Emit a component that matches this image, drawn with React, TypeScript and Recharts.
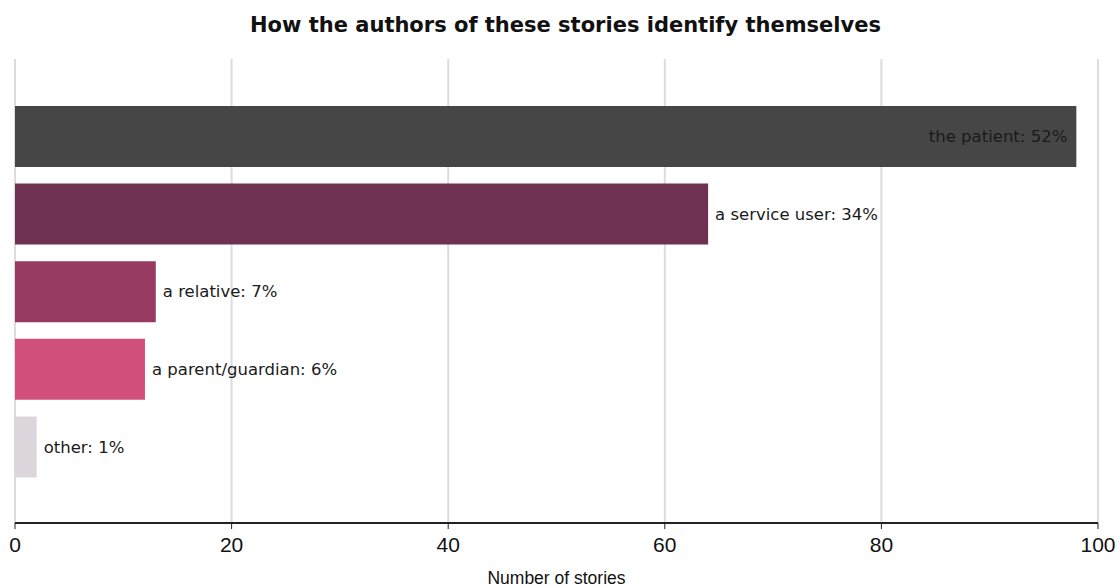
import React from "react";
import { BarChart, Bar, XAxis, YAxis, CartesianGrid, LabelList, Cell } from "recharts";

const categories = ["the patient", "a service user", "a relative", "a parent/guardian", "other"];
const counts = [98, 64, 13, 12, 2];
const percents = [52, 34, 7, 6, 1];
const colors = ["#464646", "#6f3151", "#983b62", "#d0507b", "#ddd5dc"];
const xTicks = [0, 20, 40, 60, 80, 100];

const chartData = categories.map((name, i) => ({
  name,
  count: counts[i],
  label: `${name}: ${percents[i]}%`,
}));

const BarLabel = (props: any) => {
  const { x, y, width, height, value, index } = props;
  const inside = index === 0;
  const tx = inside ? x + width - 9 : x + width + 7;
  return (
    <text
      x={tx}
      y={y + height / 2}
      dy="0.35em"
      textAnchor={inside ? "end" : "start"}
      fontFamily="'DejaVu Sans', Verdana, sans-serif"
      fontSize={16.5}
      fill="#1a1a1a"
    >
      {value}
    </text>
  );
};

export default function App() {
  return (
    <div style={{ position: "absolute", left: 0, top: 0, width: 1119, height: 587, background: "#fff" }}>
      <div
        style={{
          position: "absolute",
          left: 0,
          top: 13,
          width: 1131,
          textAlign: "center",
          fontFamily: "'DejaVu Sans', Verdana, sans-serif",
          fontWeight: "bold",
          fontSize: 21,
          color: "#111",
        }}
      >
        How the authors of these stories identify themselves
      </div>
      <BarChart
        width={1119}
        height={587}
        data={chartData}
        layout="vertical"
        margin={{ top: 59, right: 21, bottom: 0, left: 15 }}
        barSize={61}
      >
        <CartesianGrid horizontal={false} vertical={true} stroke="#dcdcdc" strokeWidth={2} />
        <XAxis
          type="number"
          domain={[0, 100]}
          ticks={xTicks}
          height={64}
          axisLine={{ stroke: "#222", strokeWidth: 2 }}
          tickLine={{ stroke: "#222" }}
          tickSize={6}
          tickMargin={8}
          tick={{ fill: "#111", fontSize: 21, fontFamily: "'Liberation Sans', Arial, sans-serif" }}
          label={{
            value: "Number of stories",
            position: "insideBottom",
            offset: 3,
            fill: "#111",
            fontSize: 17.5,
            fontFamily: "'Liberation Sans', Arial, sans-serif",
          }}
        />
        <YAxis type="category" dataKey="name" hide padding={{ top: 39, bottom: 37 }} />
        <Bar dataKey="count" isAnimationActive={false}>
          {chartData.map((d, i) => (
            <Cell key={d.name} fill={colors[i]} />
          ))}
          <LabelList dataKey="label" content={BarLabel} />
        </Bar>
      </BarChart>
    </div>
  );
}
